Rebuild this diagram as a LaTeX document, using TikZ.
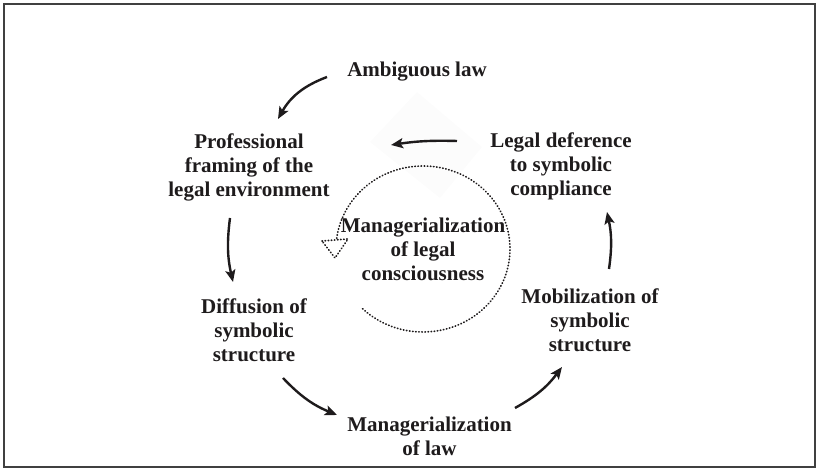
\documentclass[tikz,border=0pt]{standalone}
\usepackage{fontspec}
\setmainfont{Liberation Serif}
\usetikzlibrary{arrows.meta,calc}
\definecolor{ink}{RGB}{30,27,28}
\definecolor{haze}{RGB}{252,252,252}
\begin{document}
\begin{tikzpicture}[x=1pt,y=1pt,
  label/.style={font=\bfseries\fontsize{21}{24}\selectfont, text=ink, align=center, inner sep=0pt},
  flow/.style={draw=ink, line width=2.4pt, -{Stealth[length=12pt,width=10pt,inset=2.5pt]}},
  dots/.style={draw=ink, line width=1.7pt, line cap=round, dash pattern=on 0.5pt off 2.6pt}]
  \useasboundingbox (0,0) rectangle (819,470);
  % outer frame
  \draw[black!75, line width=1.3pt] (4,3) rectangle (815,466);
  % faint diamond behind the top arrow
  \fill[haze] (417,378) -- (482,323) -- (440,272) -- (370,328) -- cycle;

  % stages of the cycle
  \node[label] (amb)   at (417,398)   {Ambiguous law};
  \node[label] (prof)  at (249,303)   {Professional\\framing of the\\legal environment};
  \node[label] (defer) at (561,304)   {Legal deference\\to symbolic\\compliance};
  \node[label] (mgc)   at (423,221)   {Managerialization\\of legal\\consciousness};
  \node[label] (diff)  at (254,140)   {Diffusion of\\symbolic\\structure};
  \node[label] (mob)   at (590,150)   {Mobilization of\\symbolic\\structure};
  \node[label] (mlaw)  at (429.5,33.5){Managerialization\\of law};

  % arrows between stages
  \draw[flow] ([shift={(-90,-5)}]amb.center)  to[bend right=20] ([shift={(29,48)}]prof.center);
  \draw[flow] ([shift={(-19,-51)}]prof.center) to[bend right=10] ([shift={(-21,48)}]diff.center);
  \draw[flow] ([shift={(29,-48)}]diff.center)  to[bend right=12] ([shift={(-92.5,21.5)}]mlaw.center);
  \draw[flow] ([shift={(85.5,28.5)}]mlaw.center) to[bend right=12] ([shift={(-28,-47)}]mob.center);
  \draw[flow] ([shift={(19,51)}]mob.center)    to[bend right=10] ([shift={(46,-46)}]defer.center);
  \draw[flow] ([shift={(-104,25)}]defer.center) to[bend right=5] ([shift={(-32,104)}]mgc.center);

  % dotted loop around the inner stage, with a hollow head
  \draw[dots] ([shift={(226:87 and 83)}]mgc.center)
    arc[start angle=226, end angle=533, x radius=87, y radius=83];
  \draw[dots] ([shift={(-101,8)}]mgc.center) -- ([shift={(-75,10)}]mgc.center)
    -- ([shift={(-88,-9)}]mgc.center) -- cycle;
\end{tikzpicture}
\end{document}
